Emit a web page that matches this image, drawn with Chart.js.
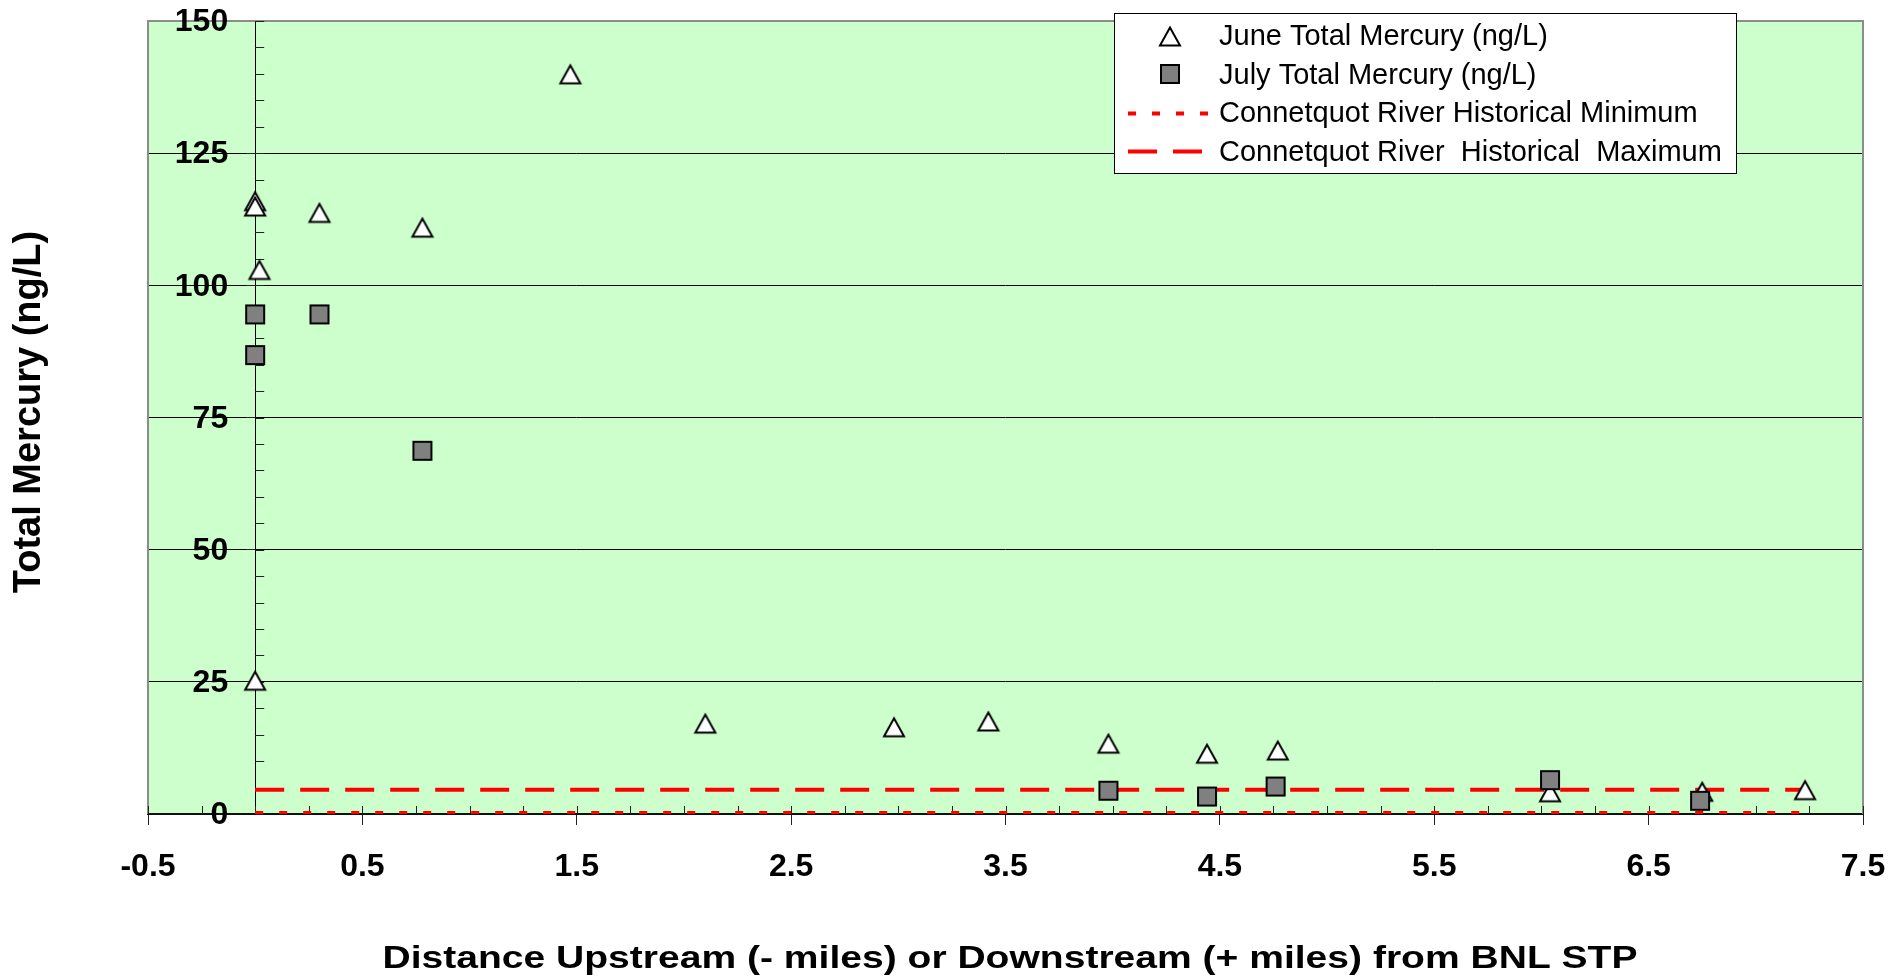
<!DOCTYPE html>
<html>
<head>
<meta charset="utf-8">
<title>Total Mercury along the Peconic River</title>
<style>
  html, body { margin: 0; padding: 0; background: #ffffff; }
  #wrap { width: 1891px; height: 979px; }
</style>
<script src="https://cdn.jsdelivr.net/npm/chart.js@4.4.1/dist/chart.umd.min.js"></script>
</head>
<body>
<div id="wrap"><canvas id="chart" width="1891" height="979"></canvas></div>
<script>
// Sampling results: distance from the STP (miles) and total mercury (ng/L)
const juneDistance = [0, 0, 0.02, 0, 0.3, 0.78, 1.47, 2.1, 2.98, 3.42, 3.98, 4.44, 4.77, 6.04, 6.75, 7.23];
const juneMercury  = [116, 115, 103, 25.3, 113.8, 111, 140, 17.2, 16.5, 17.6, 13.4, 11.5, 12.1, 4.2, 4.3, 4.6];

const julyDistance = [0, 0, 0.3, 0.78, 3.98, 4.44, 4.76, 6.04, 6.74];
const julyMercury  = [94.5, 86.8, 94.5, 68.7, 4.4, 3.3, 5.2, 6.4, 2.5];

// Connetquot River reference levels, drawn across the sampled reach
const referenceSpan = [0, 7.23];
const historicalMinimum = [0.2, 0.2];
const historicalMaximum = [4.6, 4.6];

const seriesNames = [
  'June Total Mercury (ng/L)',
  'July Total Mercury (ng/L)',
  'Connetquot River Historical Minimum',
  'Connetquot River  Historical  Maximum'
];

const xTickLabels = ['-0.5', '0.5', '1.5', '2.5', '3.5', '4.5', '5.5', '6.5', '7.5'];
const yTickLabels = ['0', '25', '50', '75', '100', '125', '150'];

const xTitle = 'Distance Upstream (- miles) or Downstream (+ miles) from BNL STP';
const yTitle = 'Total Mercury (ng/L)';

const FONT = '"Liberation Sans", Arial, Helvetica, sans-serif';

const toPoints = (xs, ys) => xs.map((x, i) => ({ x: x, y: ys[i] }));

// Marker images: open triangle and grey square
function triangleMarker() {
  const c = document.createElement('canvas');
  c.width = 26; c.height = 26;
  const g = c.getContext('2d');
  g.beginPath();
  g.moveTo(13, 4.5);
  g.lineTo(3, 22.5);
  g.lineTo(23, 22.5);
  g.closePath();
  g.fillStyle = '#ffffff';
  g.fill();
  g.lineWidth = 2;
  g.lineJoin = 'miter';
  g.strokeStyle = '#000000';
  g.stroke();
  return c;
}
function squareMarker() {
  const c = document.createElement('canvas');
  c.width = 22; c.height = 22;
  const g = c.getContext('2d');
  g.fillStyle = '#808080';
  g.fillRect(2, 2, 18, 18);
  g.lineWidth = 2;
  g.strokeStyle = '#000000';
  g.strokeRect(2, 2, 18, 18);
  return c;
}
const triangle = triangleMarker();
const square = squareMarker();

// Green plot background, frame, minor tick marks and the value labels
// that sit to the left of the vertical axis (which crosses at x = 0)
const plotFrame = {
  id: 'plotFrame',
  beforeDraw(chart) {
    const { ctx, chartArea: a } = chart;
    ctx.save();
    ctx.fillStyle = '#CCFFCC';
    ctx.fillRect(a.left, a.top, a.right - a.left, a.bottom - a.top);
    ctx.restore();
  },
  beforeDatasetsDraw(chart) {
    const { ctx, chartArea: a, scales } = chart;
    const xs = scales.x, ys = scales.y;
    ctx.save();
    ctx.strokeStyle = '#8c8c8c';
    ctx.lineWidth = 2;
    ctx.beginPath();
    ctx.moveTo(a.left, a.bottom);
    ctx.lineTo(a.left, a.top);
    ctx.lineTo(a.right, a.top);
    ctx.lineTo(a.right, a.bottom);
    ctx.stroke();

    // x minor ticks every 0.25 mile, pointing up into the plot
    ctx.strokeStyle = '#222222';
    ctx.lineWidth = 1;
    ctx.beginPath();
    for (let k = 0; k <= 32; k++) {
      const px = Math.round(xs.getPixelForValue(-0.5 + k * 0.25)) + 0.5;
      ctx.moveTo(px, a.bottom);
      ctx.lineTo(px, a.bottom - 8);
    }
    // y minor ticks every 5 ng/L, on the right of the axis line
    const x0 = xs.getPixelForValue(0);
    for (let v = 0; v <= 150; v += 5) {
      const py = Math.round(ys.getPixelForValue(v)) + 0.5;
      ctx.moveTo(x0, py);
      ctx.lineTo(x0 + 9, py);
    }
    ctx.stroke();

    // y value labels, right aligned 27px left of the axis line
    ctx.fillStyle = '#000000';
    ctx.font = 'bold 32px ' + FONT;
    ctx.textAlign = 'right';
    ctx.textBaseline = 'middle';
    ys.ticks.forEach((t, i) => {
      ctx.fillText(yTickLabels[i], x0 - 27, ys.getPixelForValue(t.value) + 1.5);
    });
    ctx.restore();
  }
};

// Axis titles
const axisTitles = {
  id: 'axisTitles',
  afterDraw(chart) {
    const { ctx } = chart;
    ctx.save();
    ctx.fillStyle = '#000000';
    ctx.font = 'bold 32px ' + FONT;
    ctx.textAlign = 'center';
    ctx.textBaseline = 'alphabetic';
    ctx.translate(1010, 967.5);
    ctx.scale(1.22, 1);
    ctx.fillText(xTitle, 0, 0);
    ctx.restore();

    ctx.save();
    ctx.fillStyle = '#000000';
    ctx.font = 'bold 38px ' + FONT;
    ctx.textAlign = 'center';
    ctx.textBaseline = 'alphabetic';
    ctx.translate(40, 412);
    ctx.rotate(-Math.PI / 2);
    ctx.fillText(yTitle, 0, 0);
    ctx.restore();
  }
};

// Boxed legend in the upper right
const boxedLegend = {
  id: 'boxedLegend',
  afterDraw(chart) {
    const { ctx } = chart;
    const box = { left: 1114.5, top: 13.5, width: 622, height: 160 };
    const rowCenters = [36, 74, 113.5, 151.5];
    const baselines = [45, 83.5, 122, 160.5];
    ctx.save();
    ctx.fillStyle = '#ffffff';
    ctx.fillRect(box.left, box.top, box.width, box.height);
    ctx.strokeStyle = '#000000';
    ctx.lineWidth = 1;
    ctx.strokeRect(box.left, box.top, box.width, box.height);

    chart.data.datasets.forEach((ds, i) => {
      const cy = rowCenters[i];
      if (ds.showLine) {
        ctx.save();
        ctx.strokeStyle = ds.borderColor;
        ctx.lineWidth = ds.borderWidth;
        ctx.setLineDash(ds.borderDash);
        ctx.lineCap = 'butt';
        ctx.beginPath();
        ctx.moveTo(1128, cy);
        ctx.lineTo(1211, cy);
        ctx.stroke();
        ctx.restore();
      } else {
        const img = ds.pointStyle;
        ctx.drawImage(img, 1170 - img.width / 2, cy - img.height / 2);
      }
      ctx.fillStyle = '#000000';
      ctx.font = '29px ' + FONT;
      ctx.textAlign = 'left';
      ctx.textBaseline = 'alphabetic';
      ctx.fillText(ds.label, 1219, baselines[i]);
    });
    ctx.restore();
  }
};

new Chart(document.getElementById('chart'), {
  type: 'scatter',
  data: {
    datasets: [
      {
        label: seriesNames[0],
        data: toPoints(juneDistance, juneMercury),
        pointStyle: triangle,
        pointRadius: 11,
        pointHoverRadius: 11,
        showLine: false,
        order: 2
      },
      {
        label: seriesNames[1],
        data: toPoints(julyDistance, julyMercury),
        pointStyle: square,
        pointRadius: 11,
        pointHoverRadius: 11,
        showLine: false,
        order: 1
      },
      {
        label: seriesNames[2],
        data: toPoints(referenceSpan, historicalMinimum),
        showLine: true,
        borderColor: '#FF0000',
        borderWidth: 4,
        borderDash: [8, 16],
        borderCapStyle: 'butt',
        pointRadius: 0,
        fill: false,
        order: 3
      },
      {
        label: seriesNames[3],
        data: toPoints(referenceSpan, historicalMaximum),
        showLine: true,
        borderColor: '#FF0000',
        borderWidth: 4,
        borderDash: [29, 16],
        borderCapStyle: 'butt',
        pointRadius: 0,
        fill: false,
        order: 4
      }
    ]
  },
  options: {
    responsive: false,
    animation: false,
    devicePixelRatio: 1,
    layout: { padding: { left: 148, right: 28, top: 21, bottom: 69.6 } },
    plugins: {
      legend: { display: false },
      tooltip: { enabled: false },
      title: { display: false }
    },
    scales: {
      x: {
        type: 'linear',
        position: 'bottom',
        min: -0.5,
        max: 7.5,
        afterFit: (s) => { s.paddingLeft = 0; s.paddingRight = 0; },
        ticks: {
          stepSize: 1,
          autoSkip: false,
          maxRotation: 0,
          padding: 23,
          color: '#000000',
          font: { family: FONT, size: 32, weight: 'bold' },
          callback: (v, i) => xTickLabels[i]
        },
        grid: {
          drawOnChartArea: false,
          drawTicks: true,
          tickLength: 11,
          tickColor: '#222222',
          lineWidth: 1
        },
        border: { display: true, color: '#111111', width: 2 }
      },
      y: {
        type: 'linear',
        position: { x: 0 },
        min: 0,
        max: 150,
        afterFit: (s) => { s.paddingTop = 0; s.paddingBottom = 0; },
        ticks: {
          display: false,
          stepSize: 25
        },
        grid: {
          color: (c) => (c.tick && c.tick.value === 150 ? '#8c8c8c' : '#000000'),
          lineWidth: 1,
          drawTicks: true,
          tickLength: 9,
          tickColor: '#222222'
        },
        border: { display: true, color: '#000000', width: 1 }
      }
    }
  },
  plugins: [plotFrame, axisTitles, boxedLegend]
});
</script>
</body>
</html>
